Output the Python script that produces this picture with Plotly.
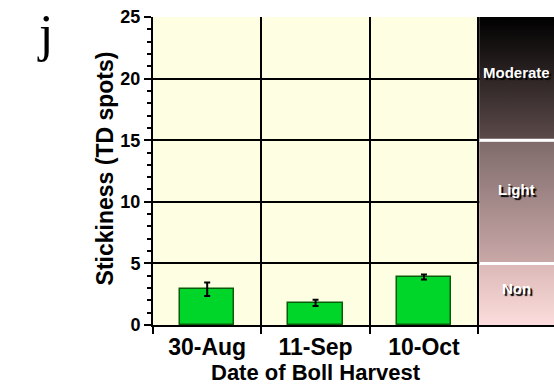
import plotly.graph_objects as go

# Stickiness by boll harvest date
harvest_dates = ["30-Aug", "11-Sep", "10-Oct"]
stickiness_mean = [2.9, 1.8, 3.9]
stickiness_err = [0.55, 0.25, 0.2]

# Stickiness rating bands (TD spots)
band_names = ["Non", "Light", "Moderate"]
band_low = [0, 5, 15]
band_high = [5, 15, 25]
band_label_y = [3.0, 11.0, 20.5]
band_bottom_color = ["#fcdcdc", "#c9a7a7", "#5c4a4a"]
band_top_color = ["#dcb9b9", "#7f6b6b", "#000000"]

Y_MAX = 25
BAND_X0, BAND_X1 = 2.51, 3.2

fig = go.Figure()

fig.add_trace(go.Bar(
    x=list(range(len(harvest_dates))), y=stickiness_mean, width=0.5,
    marker=dict(color="#00d62a", line=dict(color="#0a5c0a", width=1.5)),
    error_y=dict(type="data", array=stickiness_err, color="black",
                 thickness=2, width=3),
    showlegend=False, hoverinfo="skip",
))

for name, lo, hi, ly, cb, ct in zip(band_names, band_low, band_high, band_label_y,
                                    band_bottom_color, band_top_color):
    top = hi - 0.08 if hi < Y_MAX else hi
    bot = lo + 0.08 if lo > 0 else lo
    fig.add_trace(go.Scatter(
        x=[BAND_X0, BAND_X1, BAND_X1, BAND_X0, BAND_X0],
        y=[bot, bot, top, top, bot],
        mode="lines", line=dict(width=0), fill="toself",
        fillgradient=dict(type="vertical",
                          colorscale=[[0, cb], [1, ct]]),
        showlegend=False, hoverinfo="skip",
    ))
    fig.add_annotation(
        x=(BAND_X0 + BAND_X1) / 2, y=ly,
        text=f"<b>{name}</b>", showarrow=False,
        font=dict(family="Arial, Liberation Sans", size=15, color="white",
                  shadow="2px 2px 1px black"),
    )

# white separators between rating bands
for lo in band_low[1:]:
    fig.add_shape(type="line", xref="x", yref="y", x0=BAND_X0, x1=BAND_X1,
                  y0=lo, y1=lo, line=dict(color="white", width=3), layer="above")

fig.add_annotation(
    xref="paper", yref="paper", x=-0.27, y=1.045, xanchor="center", yanchor="top",
    text="j", showarrow=False,
    font=dict(family="Liberation Serif, Times New Roman", size=52, color="black"),
)

# axis titles placed as annotations
fig.add_annotation(
    xref="x", yref="paper", x=1, y=-0.155, xanchor="center", yanchor="middle",
    text="<b>Date of Boll Harvest</b>", showarrow=False,
    font=dict(family="Arial, Liberation Sans", size=22, color="black"),
)
fig.add_annotation(
    xref="paper", yref="y", x=-0.12, y=12.7, xanchor="center", yanchor="middle",
    text="<b>Stickiness (TD spots)</b>", showarrow=False, textangle=-90,
    font=dict(family="Arial, Liberation Sans", size=23, color="black"),
)

axis_font = dict(family="Arial, Liberation Sans", color="black")

fig.update_layout(
    width=554, height=385,
    margin=dict(l=153, r=0, t=17, b=60),
    paper_bgcolor="white", plot_bgcolor="#fefee2",
    font=axis_font,
    bargap=0,
    xaxis=dict(
        range=[-0.5, BAND_X1], tickmode="array",
        tickvals=list(range(len(harvest_dates))),
        ticktext=[f"<b>{d}</b>" for d in harvest_dates],
        tickfont=dict(size=23), ticks="", ticklabelstandoff=0,
        showgrid=False, zeroline=False,
        showline=True, linecolor="black", linewidth=2,
    ),
    xaxis2=dict(
        overlaying="x", range=[-0.5, BAND_X1], tickmode="array",
        tickvals=[-0.5, 0.5, 1.5, 2.5], showticklabels=False,
        ticks="outside", ticklen=8, tickwidth=2, tickcolor="black",
        showgrid=True, gridcolor="black", gridwidth=2, zeroline=False,
        side="bottom",
    ),
    yaxis=dict(
        range=[0, Y_MAX], tickmode="linear", dtick=5, tick0=0,
        tickfont=dict(size=18), ticks="outside", ticklen=7, tickwidth=2,
        tickcolor="black",
        minor=dict(dtick=1, ticks="outside", ticklen=4, tickwidth=2,
                   tickcolor="black", showgrid=False),
        showgrid=True, gridcolor="black", gridwidth=2, zeroline=False,
        showline=True, linecolor="black", linewidth=2,
        tickprefix="<b>", ticksuffix="</b>",
    ),
)

# invisible trace so the second x axis (category boundaries) is drawn
fig.add_trace(go.Scatter(x=[-0.5], y=[0], xaxis="x2", mode="markers",
                         marker=dict(opacity=0), showlegend=False,
                         hoverinfo="skip"))

fig.write_html("out.html")
